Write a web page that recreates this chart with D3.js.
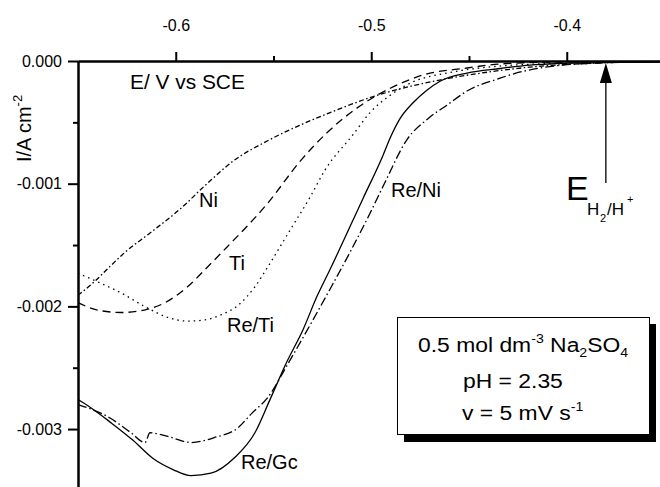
<!DOCTYPE html>
<html>
<head>
<meta charset="utf-8">
<script src="https://cdn.jsdelivr.net/npm/d3@7"></script>
<style>
  html, body { margin: 0; padding: 0; background: #fff; }
  svg { display: block; font-family: "Liberation Sans", Arial, Helvetica, sans-serif; }
</style>
</head>
<body>
<svg id="chart" width="660" height="487"></svg>
<script>
// ---- data (E in V vs SCE, I in A cm^-2) ----
const niE   = [-0.650,-0.641,-0.634,-0.626,-0.613,-0.598,-0.584,-0.571,-0.553,-0.536,-0.521,-0.499,-0.465,-0.440,-0.419,-0.383,-0.350];
const niI   = [-0.00191,-0.00179,-0.00168,-0.00156,-0.00140,-0.00121,-0.00100,-0.00082,-0.00065,-0.00052,-0.00042,-0.00029,-0.000155,-0.00009,-0.00005,-0.000016,-0.000006];

const tiE   = [-0.650,-0.640,-0.628,-0.616,-0.6055,-0.594,-0.582,-0.574,-0.553,-0.536,-0.523,-0.507,-0.490,-0.4735,-0.451,-0.434,-0.4035,-0.350];
const tiI   = [-0.00197,-0.00203,-0.00205,-0.00203,-0.00197,-0.00184,-0.00165,-0.00152,-0.00116,-0.00081,-0.00059,-0.00038,-0.00022,-0.000114,-0.000057,-0.000024,-0.000008,-0.000003];

const reTiE = [-0.650,-0.640,-0.628,-0.616,-0.604,-0.594,-0.585,-0.577,-0.568,-0.5595,-0.553,-0.5416,-0.5313,-0.5237,-0.5093,-0.5006,-0.4904,-0.4786,-0.4613,-0.4444,-0.4137,-0.350];
const reTiI = [-0.00173,-0.00180,-0.00189,-0.00200,-0.00209,-0.00212,-0.00211,-0.00207,-0.00199,-0.00184,-0.00168,-0.00138,-0.00111,-0.00089,-0.00060,-0.00042,-0.00028,-0.00017,-0.000098,-0.000057,-0.000024,-0.000006];

const reGcE = [-0.650,-0.644,-0.633,-0.622,-0.6116,-0.6014,-0.5922,-0.582,-0.5697,-0.5595,-0.5518,-0.5431,-0.5349,-0.5278,-0.5211,-0.5042,-0.494,-0.4904,-0.4853,-0.4786,-0.4717,-0.4648,-0.451,-0.4341,-0.4188,-0.3845,-0.350];
const reGcI = [-0.00276,-0.00282,-0.00295,-0.00309,-0.00324,-0.00333,-0.00338,-0.00336,-0.00323,-0.00303,-0.00276,-0.00245,-0.00219,-0.00192,-0.00170,-0.00112,-0.00077,-0.00063,-0.00047,-0.00034,-0.00024,-0.000165,-0.000098,-0.000061,-0.000033,-0.000012,-0.000006];

const reNiE = [-0.650,-0.6336,-0.6229,-0.6157,-0.6132,-0.604,-0.5922,-0.5804,-0.5682,-0.561,-0.5533,-0.5416,-0.5298,-0.5211,-0.5109,-0.5006,-0.493,-0.4817,-0.471,-0.4613,-0.451,-0.4341,-0.4275,-0.4019,-0.3815,-0.350];
const reNiI = [-0.00280,-0.00291,-0.00303,-0.00311,-0.00303,-0.00306,-0.00311,-0.00307,-0.00299,-0.00287,-0.00275,-0.00244,-0.00211,-0.00186,-0.00156,-0.00124,-0.00099,-0.00064,-0.00047,-0.00036,-0.000245,-0.00014,-0.000106,-0.000033,-0.000016,-0.000006];

const xMajorTicks = [-0.6, -0.5, -0.4];
const xMinorTicks = [-0.55, -0.45];
const yMajorTicks = [0, -0.001, -0.002, -0.003];
const yMinorTicks = [-0.0005, -0.0015, -0.0025];
const eRev = -0.38; // E(H2/H+)

const series = [
  { name: "Ni",    E: niE,   I: niI,   dash: "5,2.5,1.5,2.5" },
  { name: "Ti",    E: tiE,   I: tiI,   dash: "8,5" },
  { name: "Re/Ti", E: reTiE, I: reTiI, dash: "1.5,4" },
  { name: "Re/Gc", E: reGcE, I: reGcI, dash: null },
  { name: "Re/Ni", E: reNiE, I: reNiI, dash: "9,3,1.5,3" }
];

// ---- scales ----
const x = d3.scaleLinear().domain([-0.65, -0.35]).range([78, 664.5]);
const y = d3.scaleLinear().domain([0, -0.0035]).range([61, 490.4]);

const svg = d3.select("#chart");
svg.append("rect").attr("width", 660).attr("height", 487).attr("fill", "#fff");

svg.append("defs").append("clipPath").attr("id", "plot")
  .append("rect").attr("x", 78).attr("y", 61).attr("width", 590).attr("height", 430);

// ---- curves ----
const line = d3.line().x(d => x(d[0])).y(d => y(d[1])).curve(d3.curveMonotoneX);
const gCurves = svg.append("g").attr("clip-path", "url(#plot)");
series.forEach(s => {
  const pts = s.E.map((e, i) => [e, s.I[i]]);
  gCurves.append("path")
    .attr("d", line(pts))
    .attr("fill", "none")
    .attr("stroke", "#000")
    .attr("stroke-width", 1.3)
    .attr("stroke-dasharray", s.dash);
});

// ---- axes ----
function styleAxis(g) {
  g.selectAll("path.domain").attr("stroke", "#000").attr("stroke-width", 2);
  g.selectAll(".tick line").attr("stroke", "#000").attr("stroke-width", 2);
  g.selectAll(".tick text").attr("fill", "#000").attr("font-size", 16)
    .attr("font-family", "Liberation Sans, Arial, sans-serif");
}
const gx = svg.append("g").attr("transform", "translate(0,61)")
  .call(d3.axisTop(x).tickValues(xMajorTicks).tickSize(9).tickSizeOuter(0).tickPadding(21)
    .tickFormat(d => d.toFixed(1)));
styleAxis(gx);
const gxm = svg.append("g").attr("transform", "translate(0,61)")
  .call(d3.axisTop(x).tickValues(xMinorTicks).tickSize(5).tickSizeOuter(0).tickFormat(""));
styleAxis(gxm);

const gy = svg.append("g").attr("transform", "translate(78,0)")
  .call(d3.axisLeft(y).tickValues(yMajorTicks).tickSize(10).tickSizeOuter(0).tickPadding(6)
    .tickFormat(d => d.toFixed(3)));
styleAxis(gy);
const gym = svg.append("g").attr("transform", "translate(78,0)")
  .call(d3.axisLeft(y).tickValues(yMinorTicks).tickSize(5).tickSizeOuter(0).tickFormat(""));
styleAxis(gym);

// ---- axis titles ----
svg.append("text").attr("transform", "translate(130,89) scale(1.045,1)").attr("font-size", 20)
  .text("E/ V vs SCE");

const yl = svg.append("text").attr("transform", "translate(31,162) rotate(-90)").attr("font-size", 20);
yl.append("tspan").text("I/A cm");
yl.append("tspan").attr("font-size", 13).attr("dy", -9).text("-2");

// ---- curve labels ----
const labels = [
  { t: "Ni",    x: 199, y: 207 },
  { t: "Ti",    x: 229, y: 270 },
  { t: "Re/Ti", x: 227, y: 332 },
  { t: "Re/Gc", x: 241, y: 469 },
  { t: "Re/Ni", x: 391, y: 197 }
];
svg.selectAll("text.lbl").data(labels).enter().append("text")
  .attr("class", "lbl").attr("x", d => d.x).attr("y", d => d.y)
  .attr("font-size", 20).text(d => d.t);

// ---- E(H2/H+) arrow ----
const ax = x(eRev);
svg.append("line").attr("x1", ax).attr("x2", ax).attr("y1", 80).attr("y2", 183)
  .attr("stroke", "#000").attr("stroke-width", 1.3);
svg.append("path")
  .attr("d", `M${ax},${y(0) + 2} L${ax - 6},${y(0) + 22} L${ax + 6},${y(0) + 22} Z`)
  .attr("fill", "#000");
svg.append("text").attr("x", 566).attr("y", 200).attr("font-size", 34).text("E");
svg.append("text").attr("x", 587).attr("y", 215).attr("font-size", 17).text("H");
svg.append("text").attr("x", 600).attr("y", 222).attr("font-size", 11).text("2");
svg.append("text").attr("x", 607).attr("y", 215).attr("font-size", 17).text("/H");
svg.append("text").attr("x", 627).attr("y", 203).attr("font-size", 11).text("+");

// ---- info box ----
svg.append("rect").attr("x", 404).attr("y", 324).attr("width", 252).attr("height", 118).attr("fill", "#000");
svg.append("rect").attr("x", 397.5).attr("y", 317.5).attr("width", 252).attr("height", 117)
  .attr("fill", "#fff").attr("stroke", "#000").attr("stroke-width", 1);

const sx = 1.09;
const t1 = svg.append("text").attr("transform", `translate(418,352) scale(${sx},1)`).attr("font-size", 21);
t1.append("tspan").text("0.5 mol dm");
t1.append("tspan").attr("font-size", 13).attr("dy", -9).text("-3");
t1.append("tspan").attr("dy", 9).text(" Na");
t1.append("tspan").attr("font-size", 13).attr("dy", 5).text("2");
t1.append("tspan").attr("dy", -5).text("SO");
t1.append("tspan").attr("font-size", 13).attr("dy", 5).text("4");

svg.append("text").attr("transform", `translate(463,388) scale(${sx},1)`).attr("font-size", 21)
  .text("pH = 2.35");

const t3 = svg.append("text").attr("transform", `translate(462,420) scale(${sx},1)`).attr("font-size", 21);
t3.append("tspan").text("v = 5 mV s");
t3.append("tspan").attr("font-size", 13).attr("dy", -9).text("-1");
</script>
</body>
</html>
